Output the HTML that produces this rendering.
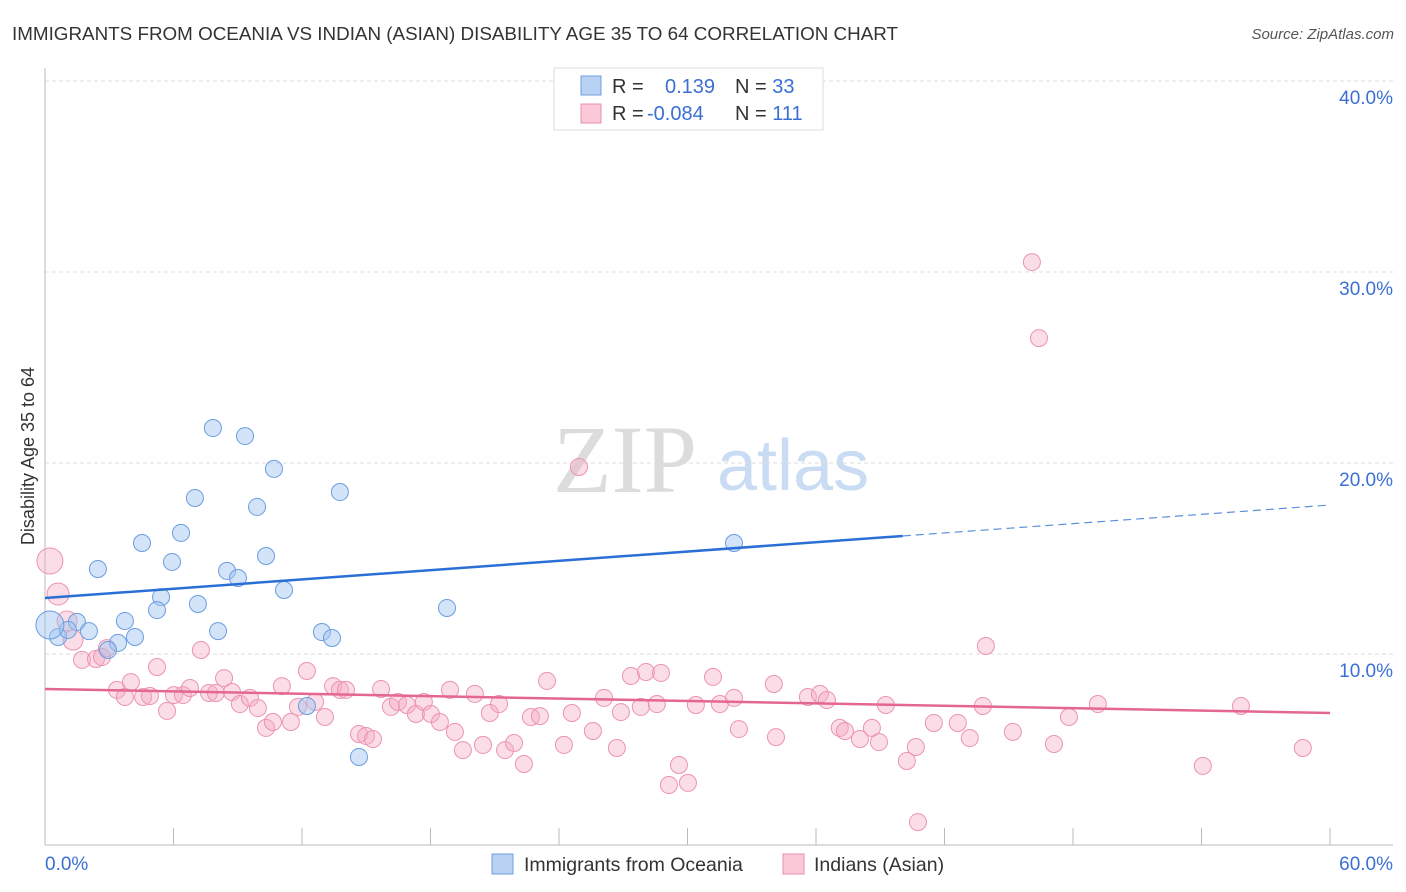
<!DOCTYPE html>
<html><head><meta charset="utf-8"><style>
body{margin:0;background:#fff;font-family:"Liberation Sans",sans-serif;}
#wrap{position:relative;width:1406px;height:892px;overflow:hidden;}
</style></head><body>
<div id="wrap">
<svg id="svg" width="1406" height="892" xmlns="http://www.w3.org/2000/svg">
<text x="12" y="40" font-size="18.5" fill="#333" textLength="886" lengthAdjust="spacingAndGlyphs">IMMIGRANTS FROM OCEANIA VS INDIAN (ASIAN) DISABILITY AGE 35 TO 64 CORRELATION CHART</text>
<text x="1394" y="39" font-size="15" fill="#555" font-style="italic" text-anchor="end">Source: ZipAtlas.com</text>
<text x="34" y="456" font-size="18" fill="#333" text-anchor="middle" transform="rotate(-90 34 456)">Disability Age 35 to 64</text>
<g>
<text x="553" y="492" font-size="96" font-family="Liberation Serif,serif" fill="#dcdcdc">ZIP</text>
<text x="717" y="490" font-size="72" fill="#c9dcf3">atlas</text>
</g>
<g id="grid"></g><g id="axes"></g><g id="pts"></g><g id="lines"></g>
<g>
<rect x="554" y="68" width="269" height="62" fill="#fff" stroke="#ddd"/>
<rect x="581" y="76" width="20" height="19" fill="#b9d2f4" stroke="#6d9de0"/>
<rect x="581" y="104" width="20" height="19" fill="#fac8d6" stroke="#eb8fae"/>
<text x="612" y="93" font-size="20" fill="#333">R =  <tspan x="665" fill="#3b6fd4">0.139</tspan><tspan x="735" fill="#333">N = </tspan><tspan fill="#3b6fd4">33</tspan></text>
<text x="612" y="120" font-size="20" fill="#333">R = <tspan x="647" fill="#3b6fd4">-0.084</tspan><tspan x="735" fill="#333">N = </tspan><tspan fill="#3b6fd4">111</tspan></text>
</g>
<g>
<rect x="492" y="854" width="21" height="20" fill="#b9d2f4" stroke="#6d9de0"/>
<text x="524" y="871" font-size="19.5" fill="#333">Immigrants from Oceania</text>
<rect x="783" y="854" width="21" height="20" fill="#fac8d6" stroke="#eb8fae"/>
<text x="814" y="871" font-size="19.5" fill="#333">Indians (Asian)</text>
</g>
</svg>
</div>
<script>
const yTicks=[10,20,30,40];
const yTickLabels=["10.0%","20.0%","30.0%","40.0%"];
const xTicks=[0,6,12,18,24,30,36,42,48,54,60];
const blueX=[7.84,9.34,10.69,7.00,9.90,13.77,6.35,4.53,10.32,5.93,2.47,8.50,9.01,11.16,5.42,5.23,7.14,3.73,1.49,2.05,8.08,12.93,13.40,4.20,0.61,1.07,3.41,2.94,18.77,32.17,12.23,14.66,0.23];
const blueY=[21.83,21.41,19.69,18.17,17.70,18.48,16.34,15.81,15.13,14.82,14.45,14.35,13.98,13.35,12.98,12.30,12.62,11.73,11.68,11.20,11.20,11.15,10.84,10.89,10.89,11.26,10.58,10.21,12.41,15.81,7.28,4.61,11.52];
const blueR=[8.5,8.5,8.5,8.5,8.5,8.5,8.5,8.5,8.5,8.5,8.5,8.5,8.5,8.5,8.5,8.5,8.5,8.5,8.5,8.5,8.5,8.5,8.5,8.5,8.5,8.5,8.5,8.5,8.5,8.5,8.5,8.5,14];
const pinkX=[0.23,0.61,1.03,1.31,1.73,2.38,2.66,2.89,3.36,3.73,4.01,4.58,4.90,5.23,5.70,6.02,6.44,6.77,7.28,7.66,7.98,8.36,8.73,9.10,9.57,9.94,10.32,10.64,11.06,11.48,11.81,12.23,12.61,13.07,13.45,13.77,14.05,14.66,14.99,15.31,15.69,16.15,16.48,16.90,17.32,17.69,18.02,18.44,18.91,19.14,19.51,20.07,20.45,20.77,21.20,21.48,21.90,22.36,22.69,23.11,23.44,24.23,24.60,25.58,26.10,26.70,26.89,27.36,27.82,28.06,28.57,28.76,29.13,29.60,30.02,30.39,31.19,31.51,32.17,32.40,34.03,34.13,35.62,36.18,36.51,37.11,37.35,38.05,38.61,38.94,39.26,40.24,40.66,40.76,41.50,42.62,43.18,43.79,43.93,45.19,46.08,46.41,47.11,47.81,49.16,54.06,55.84,58.73,24.93];
const pinkY=[14.87,13.14,11.73,10.73,9.69,9.74,9.84,10.31,8.12,7.75,8.53,7.75,7.80,9.32,7.02,7.85,7.85,8.22,10.21,7.96,7.96,8.74,8.01,7.38,7.70,7.17,6.13,6.44,8.32,6.44,7.23,9.11,7.49,6.70,8.32,8.12,8.12,5.81,5.71,5.55,8.17,7.23,7.49,7.33,6.86,7.49,6.86,6.44,8.12,5.92,4.97,7.91,5.24,6.91,7.38,4.97,5.34,4.24,6.70,6.75,8.59,5.24,6.91,5.97,7.70,5.08,6.96,8.85,7.23,9.06,7.38,9.01,3.14,4.19,3.25,7.33,8.80,7.38,7.70,6.07,8.43,5.65,7.75,7.91,7.59,6.13,5.97,5.55,6.13,5.39,7.33,4.40,5.13,1.20,6.39,6.39,5.60,7.28,10.42,5.92,30.52,26.54,5.29,6.70,7.38,4.14,7.28,5.08,19.79];
const pinkBig=[13,11,10,10];
const blueTrend=[12.93,17.8];
const blueSolidEnd=40.05;
const pinkTrend=[8.17,6.91];

const NS="http://www.w3.org/2000/svg";
const sx=v=>45+v*21.417;
const sy=v=>845-v*19.1;
function mk(tag,attrs,parent){const e=document.createElementNS(NS,tag);for(const k in attrs)e.setAttribute(k,attrs[k]);document.getElementById(parent).appendChild(e);return e;}
yTicks.forEach((t,i)=>{
  const l=mk('line',{x1:45,x2:1393,y1:sy(t),y2:sy(t),stroke:'#ddd','stroke-dasharray':'4,3'},'grid');
  
  
  const tx=mk('text',{x:1393,y:sy(t)+23,'font-size':19,fill:'#3b6fd4','text-anchor':'end'},'grid');
  tx.textContent=yTickLabels[i];
  
  
});
const ya=mk('line',{x1:45,x2:45,y1:68,y2:845,stroke:'#bbb'},'axes');


const xa=mk('line',{x1:45,x2:1393,y1:845,y2:845,stroke:'#bbb'},'axes');


xTicks.forEach(t=>{
  const l=mk('line',{x1:sx(t),x2:sx(t),y1:828,y2:845,stroke:'#bbb'},'axes');
  
  
});
const x0=mk('text',{x:45,y:870,'font-size':19,fill:'#3b6fd4'},'axes');x0.textContent='0.0%';


const x1=mk('text',{x:1393,y:870,'font-size':19,fill:'#3b6fd4','text-anchor':'end'},'axes');x1.textContent='60.0%';


pinkX.forEach((v,i)=>{
  const c=mk('circle',{cx:sx(v),cy:sy(pinkY[i]),r:pinkBig[i]||8.5,fill:'rgba(245,170,195,0.4)',stroke:'#ec93b1','stroke-width':1},'pts');
  
  
});
blueX.forEach((v,i)=>{
  const c=mk('circle',{cx:sx(v),cy:sy(blueY[i]),r:blueR[i],fill:'rgba(160,195,240,0.45)',stroke:'#6a9de0','stroke-width':1},'pts');
  
  
});
const bAt=x=>blueTrend[0]+(blueTrend[1]-blueTrend[0])*x/60;
const b1=mk('line',{x1:sx(0),y1:sy(bAt(0)),x2:sx(blueSolidEnd),y2:sy(bAt(blueSolidEnd)),stroke:'#2a6fd6','stroke-width':2.5},'lines');


const b2=mk('line',{x1:sx(blueSolidEnd),y1:sy(bAt(blueSolidEnd)),x2:sx(60),y2:sy(bAt(60)),stroke:'#5b8fdc','stroke-width':1.2,'stroke-dasharray':'8,5'},'lines');


const p1=mk('line',{x1:sx(0),y1:sy(pinkTrend[0]),x2:sx(60),y2:sy(pinkTrend[1]),stroke:'#e4678f','stroke-width':2.5},'lines');


</script>
</body></html>
